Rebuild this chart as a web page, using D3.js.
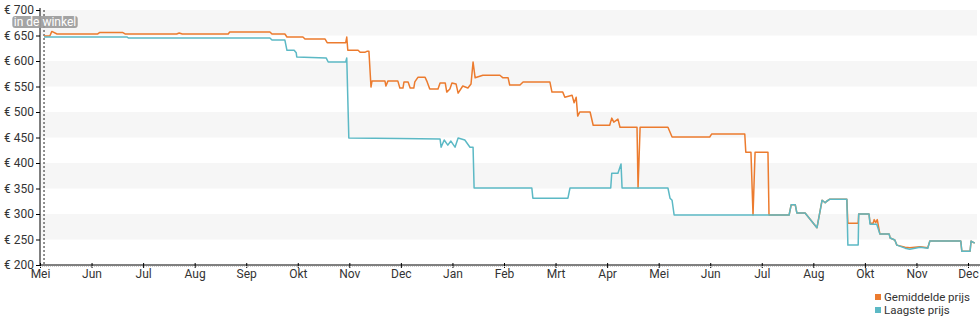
<!DOCTYPE html>
<html>
<head>
<meta charset="utf-8">
<script src="https://cdn.jsdelivr.net/npm/d3@7/dist/d3.min.js"></script>
<style>
  html, body { margin: 0; padding: 0; background: #fff; }
  svg { display: block; font-family: Roboto, "Noto Sans", sans-serif; }
</style>
</head>
<body>
<svg id="chart" width="980" height="325"></svg>
<script>
// Month tick labels (one tick per month step on the time axis)
const monthLabels = ["Mei","Jun","Jul","Aug","Sep","Okt","Nov","Dec","Jan","Feb","Mrt","Apr","Mei","Jun","Jul","Aug","Okt","Nov","Dec"];

// Price ticks in euro
const priceTicks = [200, 250, 300, 350, 400, 450, 500, 550, 600, 650, 700];

// Date the product appeared in the shop (months since the first tick)
const inShopMonth = 0.078;

// Average price: [months since first tick, price in euro]
const averagePrice = [
  [0.078,649],[0.19,649],[0.23,658],[0.33,653],[1.12,653],[1.16,656],[1.60,656],[1.65,653],[2.65,653],[2.70,655],[2.76,653],[3.65,653],[3.68,657],[4.46,657],
  [4.50,653],[4.75,653],[4.79,647],[5.10,647],[5.14,643],[5.53,643],[5.57,636],[5.93,636],[5.95,647],[5.97,621],
  [6.17,621],[6.21,617],[6.30,617],[6.34,619],[6.38,619],[6.42,549],[6.44,561],[6.69,561],[6.71,551],[6.75,561],
  [6.94,561],[6.98,547],[7.04,547],[7.06,559],[7.14,559],[7.18,547],[7.25,547],[7.27,559],[7.33,568],[7.47,568],
  [7.51,559],[7.56,545],[7.72,545],[7.76,557],[7.86,557],[7.89,539],[7.95,545],[7.99,557],[8.07,555],[8.11,537],
  [8.20,551],[8.30,547],[8.36,555],[8.40,598],[8.44,567],[8.59,572],[8.92,572],[8.98,567],[9.08,567],[9.11,553],
  [9.31,553],[9.37,559],[9.89,559],[9.93,539],[10.14,539],[10.18,529],[10.32,533],[10.36,518],[10.40,529],[10.43,492],
  [10.47,500],[10.67,500],[10.73,474],[11.05,474],[11.09,488],[11.13,480],[11.21,486],[11.25,470],[11.58,470],
  [11.60,351],[11.64,470],[12.18,470],[12.26,451],[12.99,451],[13.03,457],[13.67,457],[13.69,421],[13.79,421],
  [13.83,298],[13.87,421],[14.12,421],[14.14,298],[14.53,298],[14.57,318],[14.65,318],[14.68,302],[14.84,302],
  [15.07,273],[15.17,327],[15.23,322],[15.26,325],[15.32,329],[15.65,329],[15.67,282],[15.87,282],[15.88,300],
  [16.08,300],[16.10,282],[16.16,282],[16.18,289],[16.21,283],[16.24,289],[16.29,261],[16.47,261],[16.49,253],
  [16.58,249],[16.62,239],[16.78,235],[16.87,234],[17.07,236],[17.22,234],[17.26,247],[17.86,247],[17.88,227],
  [18.04,227],[18.06,247],[18.13,243]
];

// Lowest price: [months since first tick, price in euro]
const lowestPrice = [
  [0.078,647],[1.69,647],[1.72,645],[4.46,645],[4.50,641],[4.75,641],[4.79,621],[4.93,621],[4.97,616],[4.98,608],
  [5.55,606],[5.59,598],[5.93,598],[5.95,606],[5.99,449],[6.98,448],[7.76,447],[7.78,431],[7.84,445],[7.91,435],
  [7.97,443],[8.05,431],[8.11,449],[8.24,445],[8.34,431],[8.40,431],[8.42,351],[9.54,351],[9.56,331],[10.24,331],
  [10.28,351],[11.07,351],[11.09,380],[11.21,380],[11.27,398],[11.29,351],[12.18,351],[12.22,331],[12.26,327],
  [12.30,298],[14.53,298],[14.57,318],[14.65,318],[14.68,302],[14.84,302],[15.07,273],[15.17,327],[15.23,322],
  [15.26,325],[15.32,329],[15.65,329],[15.67,239],[15.87,239],[15.88,300],[16.08,300],[16.10,280],[16.23,280],
  [16.29,261],[16.47,261],[16.49,253],[16.58,249],[16.62,239],[16.78,233],[16.87,231],[17.07,235],[17.22,233],
  [17.26,247],[17.86,247],[17.88,227],[18.04,227],[18.06,247],[18.13,243]
];

const seriesNames = ["Gemiddelde prijs", "Laagste prijs"];
const seriesColors = ["#ec7b2e", "#5cb9c5"];

const svg = d3.select("#chart");
const plot = { left: 40, right: 977, top: 10, bottom: 265 };

const x = d3.scaleLinear().domain([0, monthLabels.length - 1]).range([plot.left, 968]);
const y = d3.scaleLinear().domain([200, 700]).range([plot.bottom, plot.top]);

// Alternating horizontal bands
const bandSteps = d3.range(200, 700, 50);
svg.append("g").selectAll("rect")
  .data(bandSteps.filter(v => (v / 50) % 2 === 1))
  .join("rect")
  .attr("x", plot.left)
  .attr("width", plot.right - plot.left)
  .attr("y", d => y(d + 50))
  .attr("height", d => y(d) - y(d + 50))
  .attr("fill", "#f6f6f6");

// Marker for the first day in the shop
svg.append("line")
  .attr("x1", x(inShopMonth)).attr("x2", x(inShopMonth))
  .attr("y1", plot.top).attr("y2", plot.bottom)
  .attr("stroke", "#222").attr("stroke-width", 1)
  .attr("stroke-dasharray", "2,2");

// Price lines: average first, lowest drawn on top
const line = d3.line().x(d => x(d[0])).y(d => y(d[1]));
[averagePrice, lowestPrice].forEach((data, i) => {
  svg.append("path")
    .datum(data)
    .attr("fill", "none")
    .attr("stroke", seriesColors[i])
    .attr("stroke-width", 1.5)
    .attr("stroke-linejoin", "round")
    .attr("d", line);
});

// Y axis
const yAxis = svg.append("g")
  .attr("transform", `translate(${plot.left},0)`)
  .call(d3.axisLeft(y).tickValues(priceTicks).tickSize(4).tickPadding(2).tickFormat(d => "€ " + d));
yAxis.select(".domain").attr("stroke", "#000").attr("d", `M0,${plot.top - 2}V${plot.bottom}`);
yAxis.selectAll("text").attr("font-size", 12).attr("fill", "#333").attr("font-family", "Roboto, sans-serif");

// X axis
const xAxis = svg.append("g")
  .attr("transform", `translate(0,${plot.bottom})`)
  .call(d3.axisBottom(x).tickValues(d3.range(monthLabels.length)).tickSize(3).tickPadding(1)
    .tickFormat(i => monthLabels[i]));
xAxis.select(".domain").attr("stroke", "#000").attr("d", `M${plot.left},0H${plot.right + 3}`);
xAxis.selectAll(".tick line").attr("y1", -2);
xAxis.selectAll("text").attr("font-size", 12).attr("fill", "#333").attr("font-family", "Roboto, sans-serif");
xAxis.append("line")
  .attr("x1", plot.left).attr("x2", plot.right + 3).attr("y1", 1.5).attr("y2", 1.5)
  .attr("stroke", "#ccc").attr("stroke-dasharray", "1,1");

// "In de winkel" label
const tag = svg.append("g");
const tagText = tag.append("text")
  .attr("x", x(inShopMonth) + 1).attr("y", 26)
  .attr("text-anchor", "middle")
  .attr("font-size", 12).attr("fill", "#fff")
  .attr("font-family", "Roboto, sans-serif")
  .text("in de winkel");
const bb = tagText.node().getBBox();
tag.insert("rect", "text")
  .attr("x", bb.x - 1.5).attr("y", 16)
  .attr("width", bb.width + 3).attr("height", 12)
  .attr("rx", 3)
  .attr("fill", "#9a9a9a").attr("fill-opacity", 0.9);

// Legend
const legend = svg.append("g").attr("transform", "translate(875,293)");
seriesNames.forEach((name, i) => {
  const g = legend.append("g").attr("transform", `translate(0,${i * 13})`);
  g.append("rect").attr("x", 0).attr("y", 1).attr("width", 6).attr("height", 6).attr("fill", seriesColors[i]);
  g.append("text").attr("x", 9).attr("y", 8)
    .attr("font-size", 11.5).attr("fill", "#333")
    .attr("font-family", "Roboto, sans-serif")
    .text(name);
});
</script>
</body>
</html>
